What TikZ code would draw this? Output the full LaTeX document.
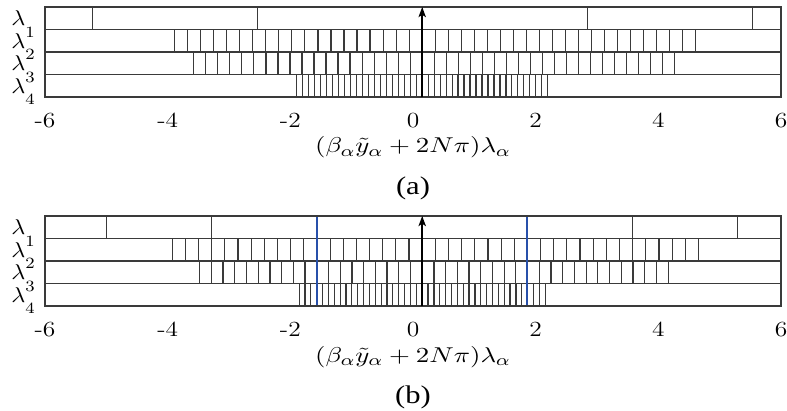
\documentclass[tikz,border=0pt]{standalone}
\usepackage{fontspec}
\newfontfamily\capfont{Liberation Serif}
\usetikzlibrary{arrows.meta}
\definecolor{pblue}{RGB}{40,80,170}
\definecolor{pgray}{HTML}{3A3A3A}

\begin{document}
\begin{tikzpicture}[
  x=1.1cm, y=0.4035cm,
  frame/.style={pgray, line width=1pt},
  cellline/.style={pgray, line width=0.6pt},
  bluel/.style={pblue, line width=1pt},
  arr/.style={-{Stealth[length=1.8mm, width=1.3mm, inset=0.4mm]}, black, line width=1pt},
  ticklbl/.style={inner sep=0pt, font=\fontsize{11}{13}\selectfont, xscale=1.18},
  axlbl/.style={inner sep=0pt, font=\fontsize{11}{13}\selectfont, xscale=1.25},
  rowlbl/.style={anchor=base east, inner sep=0pt, xshift=-5pt, yshift=-3.9pt, xscale=1.12,
                 font=\fontsize{11}{13}\selectfont},
  caption/.style={font=\capfont\fontsize{13}{15}\selectfont, inner sep=0pt, xscale=1.2},
]
\def\cx{0.15}
\useasboundingbox (-6.734,-13.956) rectangle (6.098,4.311);

%% (a)
\begin{scope}
  \foreach \y/\w/\nl/\nt in {3/2.69/2/4, 2/0.2125/19/40, 1/0.196/19/40, 0/0.0975/21/42}
    \foreach \k in {0,...,\nt}
      \draw[cellline] ({\cx+(\k-\nl)*\w},\y) -- ++(0,1);
  \foreach \y in {1,2,3}
    \draw[cellline] (-6,\y) -- (6,\y);
  \draw[frame] (-6,0) rectangle (6,4);
  \coordinate (a-foot) at (\cx,0);
  \coordinate (a-head) at (\cx,4);
  \draw[arr] (a-foot) -- (a-head);
  \foreach \i/\y in {1/3.5, 2/2.5, 3/1.5, 4/0.5}
    \node[rowlbl] (a-lam\i) at (-6,\y) {$\lambda\raisebox{-5.7pt}{$\scriptstyle\i$}$};
  \foreach \t in {-6,-4,...,6}
    \node[ticklbl] (a-tick\t) at (\t,-1.04) {\t};
  \node[axlbl] (a-xlabel) at (0,-2.25) {$(\beta_\alpha\tilde{y}_\alpha+2N\pi)\lambda_\alpha$};
  \node[caption] (a-cap) at (0,-4.05) {(a)};
\end{scope}

%% (b)
\begin{scope}[yshift=-9.289*0.4035cm]
  \foreach \y/\w/\nl/\nt in {3/1.715/3/6, 2/0.2145/19/40, 1/0.191/19/40, 0/0.0955/21/42}
    \foreach \k in {0,...,\nt}
      \draw[cellline] ({\cx+(\k-\nl)*\w},\y) -- ++(0,1);
  \foreach \y in {1,2,3}
    \draw[cellline] (-6,\y) -- (6,\y);
  % blue marks one period either side
  \draw[bluel] (-1.565,0) -- (-1.565,4);
  \draw[bluel] (1.865,0) -- (1.865,4);
  \draw[frame] (-6,0) rectangle (6,4);
  \coordinate (b-foot) at (\cx,0);
  \coordinate (b-head) at (\cx,4);
  \draw[arr] (b-foot) -- (b-head);
  \foreach \i/\y in {1/3.5, 2/2.5, 3/1.5, 4/0.5}
    \node[rowlbl] (b-lam\i) at (-6,\y) {$\lambda\raisebox{-5.7pt}{$\scriptstyle\i$}$};
  \foreach \t in {-6,-4,...,6}
    \node[ticklbl] (b-tick\t) at (\t,-1.04) {\t};
  \node[axlbl] (b-xlabel) at (0,-2.28) {$(\beta_\alpha\tilde{y}_\alpha+2N\pi)\lambda_\alpha$};
  \node[caption] (b-cap) at (0,-4.08) {(b)};
\end{scope}
\end{tikzpicture}
\end{document}
